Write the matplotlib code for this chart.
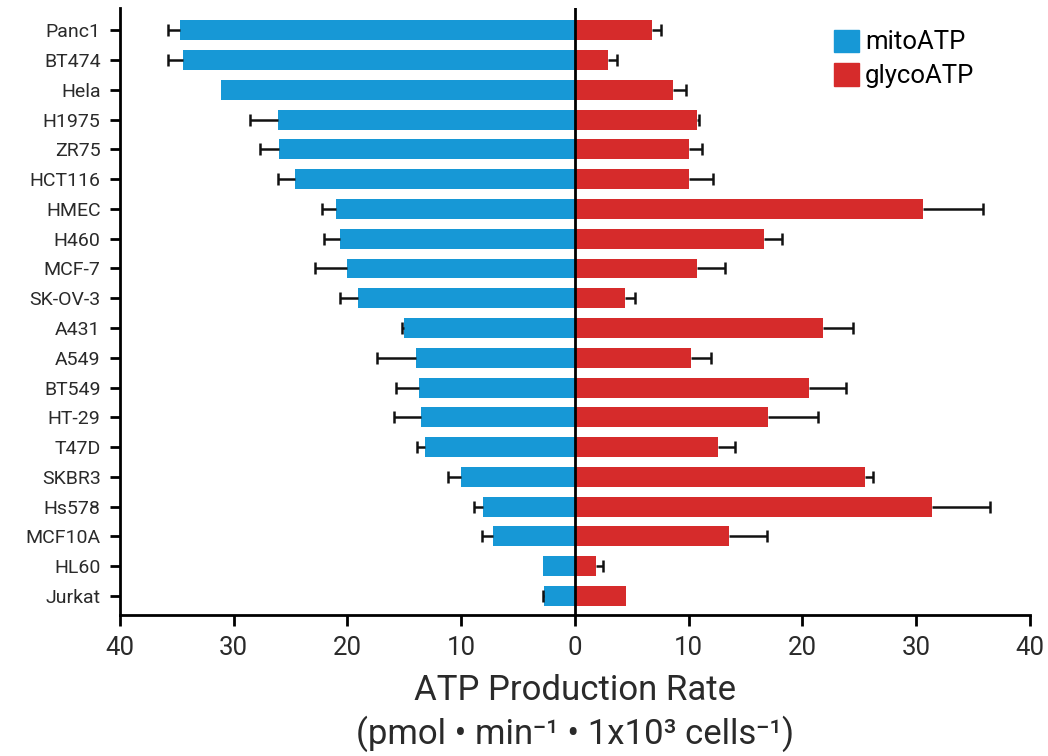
import numpy as np
import matplotlib
matplotlib.use('Agg')
import matplotlib.pyplot as plt
from matplotlib.patches import Patch

plt.rcParams['font.family'] = ['Roboto', 'DejaVu Sans']

cells = ['Panc1', 'BT474', 'Hela', 'H1975', 'ZR75', 'HCT116', 'HMEC', 'H460', 'MCF-7',
         'SK-OV-3', 'A431', 'A549', 'BT549', 'HT-29', 'T47D', 'SKBR3', 'Hs578', 'MCF10A',
         'HL60', 'Jurkat']
mito = [34.7, 34.5, 31.1, 26.1, 26.0, 24.6, 21.0, 20.7, 20.0, 19.1,
        15.0, 14.0, 13.7, 13.5, 13.2, 10.0, 8.1, 7.2, 2.8, 2.7]
mito_err = [1.1, 1.3, 0.0, 2.5, 1.7, 1.5, 1.2, 1.4, 2.9, 1.6,
            0.2, 3.4, 2.0, 2.4, 0.7, 1.2, 0.8, 1.0, 0.0, 0.1]
glyco = [6.8, 2.9, 8.6, 10.7, 10.0, 10.05, 30.6, 16.6, 10.75, 4.4,
         21.8, 10.2, 20.6, 17.0, 12.6, 25.5, 31.4, 13.5, 1.85, 4.5]
glyco_err = [0.8, 0.8, 1.2, 0.2, 1.2, 2.1, 5.3, 1.6, 2.4, 0.9,
             2.6, 1.8, 3.2, 4.4, 1.5, 0.7, 5.1, 3.4, 0.6, 0.0]

blue = '#1798d6'
red = '#d62b2b'
ink = '#2a2a2a'

y = np.arange(len(cells))[::-1]

fig, ax = plt.subplots(figsize=(10.48, 7.56), dpi=100)
fig.subplots_adjust(left=0.1145, right=0.9828, bottom=0.1865, top=0.989)

ax.barh(y, -np.array(mito), height=0.67, color=blue)
ax.barh(y, glyco, height=0.67, color=red)

# one-sided error bars, outward only, with a cap at the far end
for starts, errs, sign in [(mito, mito_err, -1), (glyco, glyco_err, 1)]:
    s = sign * np.array(starts)
    e = s + sign * np.array(errs)
    keep = np.array(errs) > 0
    ax.hlines(y[keep], s[keep], e[keep], color='#111111', linewidth=1.8, zorder=3)
    ax.plot(e[keep], y[keep], linestyle='none', marker='|', markersize=9,
            markeredgewidth=1.8, color='#111111', zorder=3)

ax.axvline(0, color='black', linewidth=2, zorder=4)

ax.set_xlim(-40, 40)
ax.set_ylim(-0.64, len(cells) - 1 + 0.74)
ax.set_xticks(range(-40, 41, 10))
ax.set_xticklabels([str(abs(v)) for v in range(-40, 41, 10)])
ax.set_yticks(y)
ax.set_yticklabels(cells)

for s in ['top', 'right']:
    ax.spines[s].set_visible(False)
for s in ['left', 'bottom']:
    ax.spines[s].set_linewidth(2)
ax.tick_params(axis='y', labelsize=14, length=7, width=2, pad=7, labelcolor=ink)
ax.tick_params(axis='x', labelsize=18.5, length=8, width=2, pad=7, labelcolor=ink)

ax.set_xlabel('ATP Production Rate\n(pmol • min⁻¹ • 1x10³ cells⁻¹)',
              fontsize=25, linespacing=1.3, labelpad=10, color=ink)

handles = [Patch(color=blue, label='mitoATP'), Patch(color=red, label='glycoATP')]
ax.legend(handles=handles, loc='upper left', bbox_to_anchor=(0.785, 0.965),
          frameon=False, fontsize=18.5, handlelength=0.95, handleheight=0.95,
          handletextpad=0.25, labelspacing=0.35, borderpad=0, borderaxespad=0)

plt.savefig('out.png', dpi=100)
